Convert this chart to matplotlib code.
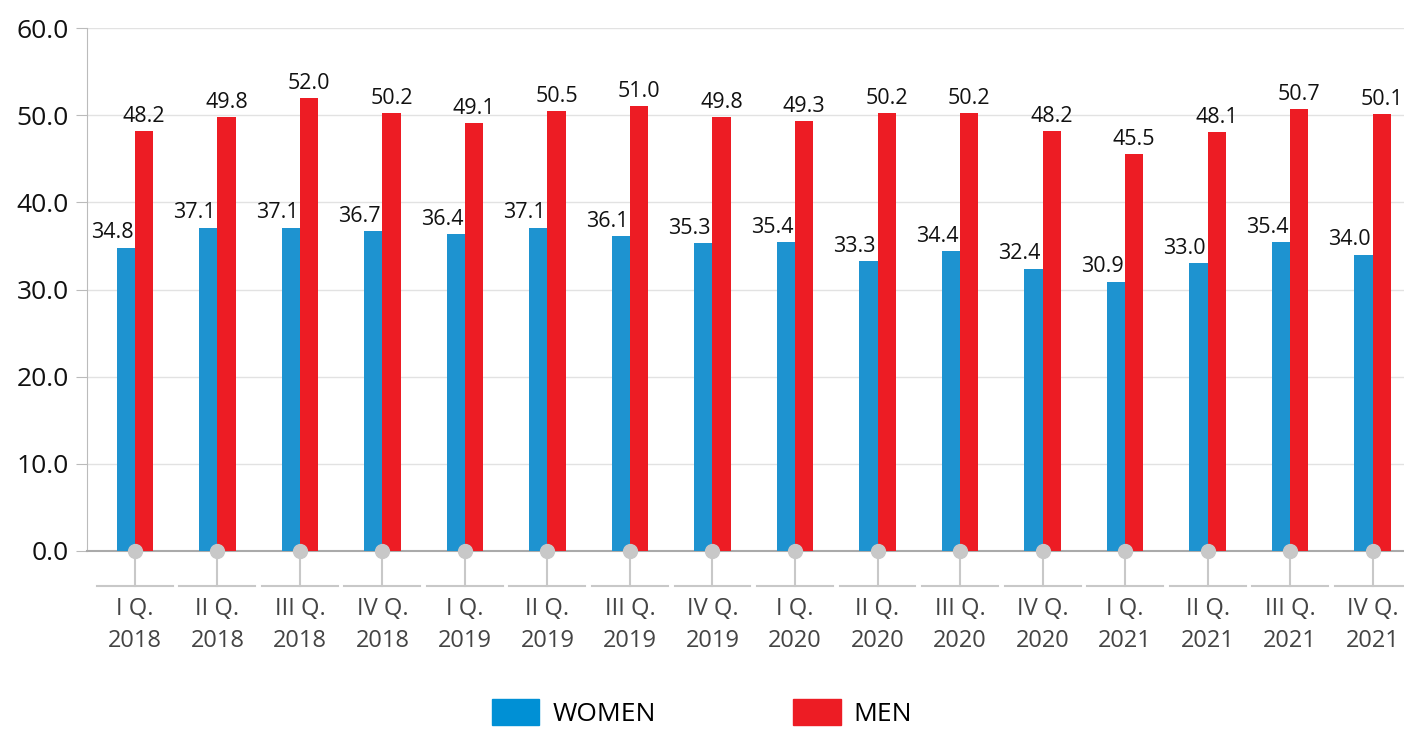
import matplotlib.pyplot as plt
from matplotlib.patches import Patch
import numpy as np

plt.rcParams['font.family'] = ['Open Sans', 'DejaVu Sans']

quarters = ['I Q.', 'II Q.', 'III Q.', 'IV Q.']
years = ['2018', '2019', '2020', '2021']
labels = [q + '\n' + y for y in years for q in quarters]
women = [34.8, 37.1, 37.1, 36.7, 36.4, 37.1, 36.1, 35.3,
         35.4, 33.3, 34.4, 32.4, 30.9, 33.0, 35.4, 34.0]
men = [48.2, 49.8, 52.0, 50.2, 49.1, 50.5, 51.0, 49.8,
       49.3, 50.2, 50.2, 48.2, 45.5, 48.1, 50.7, 50.1]

blue = '#1E93D0'
red = '#ED1C24'
grey = '#C8C8C8'

fig = plt.figure(figsize=(14.04, 7.30), dpi=100)
ax = fig.add_axes([87 / 1404, 179 / 730, 1317 / 1404, 523 / 730])

x = np.arange(len(labels))
w = 0.22
ax.bar(x - w / 2, women, w, color=blue, zorder=3)
ax.bar(x + w / 2, men, w, color=red, zorder=3)

ax.set_xlim(-0.58, len(labels) - 1 + 0.38)
ax.set_ylim(0, 60)
ax.set_yticks(np.arange(0, 61, 10))
ax.set_yticklabels([f'{v:.1f}' for v in np.arange(0, 61, 10)], fontsize=19, color='#111111')
ax.yaxis.grid(True, color='#E2E2E2', linewidth=1, zorder=0)
ax.tick_params(axis='y', length=8, color='#BBBBBB', pad=5)

ax.set_xticks(x)
ax.set_xticklabels(labels, fontsize=17, color='#444444', linespacing=1.45)
ax.tick_params(axis='x', length=0, pad=33)

for s in ['top', 'right']:
    ax.spines[s].set_visible(False)
ax.spines['left'].set_color('#BBBBBB')
ax.spines['bottom'].set_color('#AAAAAA')
ax.spines['bottom'].set_linewidth(1.5)

# data labels
for xi, wv, mv in zip(x, women, men):
    ax.annotate(f'{wv:.1f}', (xi - w / 2, wv), xytext=(-10, 3), textcoords='offset points',
                ha='center', va='bottom', fontsize=15.5, color='#111111')
    ax.annotate(f'{mv:.1f}', (xi + w / 2, mv), xytext=(0, 3), textcoords='offset points',
                ha='center', va='bottom', fontsize=15.5, color='#111111')

# category markers below axis
px = 60 / 523
for xi in x:
    ax.plot([xi, xi], [0, -35 * px], color=grey, lw=1.5, clip_on=False, zorder=2)
    ax.plot([xi - 0.46, xi + 0.46], [-35 * px, -35 * px], color=grey, lw=1.5,
            clip_on=False, zorder=2)
    ax.plot(xi, 0, 'o', color=grey, markersize=10, clip_on=False, zorder=5)

handles = [Patch(color='#0090D5', label='WOMEN'), Patch(color=red, label='MEN')]
fig.legend(handles=handles, loc='center', bbox_to_anchor=(0.5, 17 / 730), ncol=2,
           frameon=False, fontsize=19, handlelength=1.8, handleheight=1.1,
           columnspacing=5.2, handletextpad=0.5)

fig.savefig('out.png', dpi=100)
